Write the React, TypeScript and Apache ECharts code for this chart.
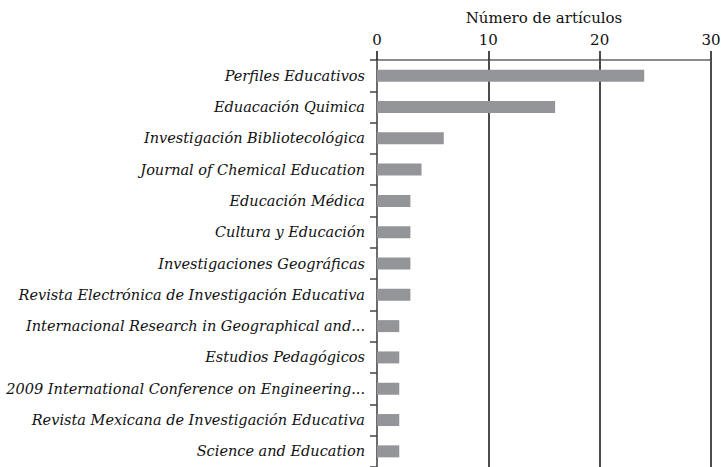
import React, { useEffect, useRef } from "react";
import * as echarts from "echarts";

const categories = [
  "Perfiles Educativos",
  "Eduacación Quimica",
  "Investigación Bibliotecológica",
  "Journal of Chemical Education",
  "Educación Médica",
  "Cultura y Educación",
  "Investigaciones Geográficas",
  "Revista Electrónica de Investigación Educativa",
  "Internacional Research in Geographical and...",
  "Estudios Pedagógicos",
  "2009 International Conference on Engineering...",
  "Revista Mexicana de Investigación Educativa",
  "Science and Education",
];
const articles = [24, 16, 6, 4, 3, 3, 3, 3, 2, 2, 2, 2, 2];
const axisTitle = "Número de artículos";

const FONT = "DejaVu Serif";

export default function App() {
  const ref = useRef<HTMLDivElement>(null);
  useEffect(() => {
    if (!ref.current) return;
    const chart = echarts.init(ref.current, undefined, { renderer: "svg" });
    chart.setOption({
      animation: false,
      backgroundColor: "#ffffff",
      grid: {
        left: 377,
        right: 10,
        top: 60,
        bottom: 0,
        containLabel: false,
        outerBoundsMode: "none",
      },
      xAxis: {
        type: "value",
        position: "top",
        min: 0,
        max: 30,
        interval: 10,
        name: axisTitle,
        nameLocation: "middle",
        nameGap: 35,
        nameTextStyle: { fontFamily: FONT, fontSize: 15, color: "#111" },
        axisLine: { show: true, lineStyle: { color: "#666", width: 1.5 } },
        axisTick: { show: true, length: 9, lineStyle: { color: "#111", width: 1.5 } },
        axisLabel: { fontFamily: FONT, fontSize: 15, color: "#111", margin: 13 },
        splitLine: { show: true, lineStyle: { color: "#111", width: 1.5 } },
      },
      yAxis: {
        type: "category",
        inverse: true,
        data: categories,
        axisLine: { show: true, lineStyle: { color: "#777", width: 1.5 } },
        axisTick: { show: true, length: 7, lineStyle: { color: "#444", width: 1.5 } },
        axisLabel: {
          fontFamily: FONT,
          fontStyle: "italic",
          fontSize: 14.5,
          color: "#111",
          margin: 12,
        },
        splitLine: { show: false },
      },
      series: [
        {
          type: "bar",
          data: articles,
          barWidth: 12,
          itemStyle: { color: "#939598" },
        },
      ],
    });
    return () => chart.dispose();
  }, []);
  return (
    <div
      ref={ref}
      style={{ position: "fixed", left: 0, top: 0, width: 721, height: 467 }}
    />
  );
}
